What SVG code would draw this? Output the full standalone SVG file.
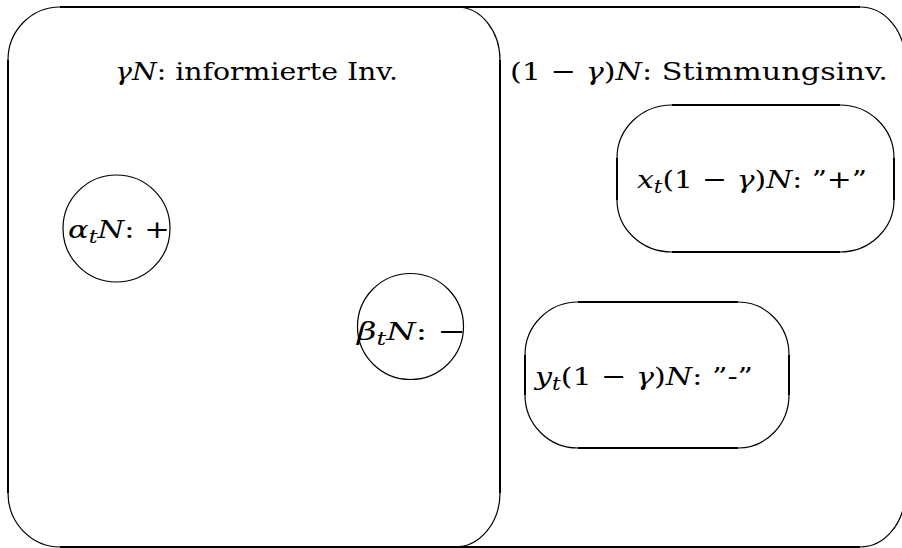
<svg xmlns="http://www.w3.org/2000/svg" width="902" height="548" viewBox="0 0 902 548">
<style>
.arc{fill:none;stroke:#000;stroke-width:1.2}
.edge{fill:none;stroke:#000;stroke-width:2}
text{font-family:"DejaVu Serif","Liberation Serif",serif;font-size:25px;fill:#000}
.i{font-style:italic}
.sub{font-style:italic;font-size:18px}
</style>
<rect width="902" height="548" fill="#fff"/>
<g id="outer">
<path class="arc" d="M8,60 A52,53 0 0 1 60,7 M860,7 A45,53 0 0 1 905,60 M905,493 A45,54 0 0 1 860,547 M60,547 A52,54 0 0 1 8,493"/>
<path class="edge" d="M60,7 L860,7 M905,60 L905,493 M860,547 L60,547 M8,493 L8,60"/>
<text x="510" y="80" textLength="378" lengthAdjust="spacingAndGlyphs">(1 − <tspan class="i">γ</tspan>)<tspan class="i">N</tspan>: Stimmungsinv.</text>
</g>
<g id="informed">
<path class="arc" d="M457,7 A43,53 0 0 1 500,60 M500,493 A45,54 0 0 1 455,547"/>
<path class="edge" d="M500,60 L500,493"/>
<text x="115" y="80" textLength="283" lengthAdjust="spacingAndGlyphs"><tspan class="i">γN</tspan>: informierte Inv.</text>
</g>
<g id="alpha">
<circle class="arc" cx="116.5" cy="228.5" r="53.5"/>
<text x="68" y="238" textLength="102" lengthAdjust="spacingAndGlyphs"><tspan class="i">α</tspan><tspan class="sub" dy="5">t</tspan><tspan class="i" dy="-5">N</tspan>: +</text>
</g>
<g id="beta">
<circle class="arc" cx="410.5" cy="326.5" r="53"/>
<text x="357" y="340" textLength="109" lengthAdjust="spacingAndGlyphs"><tspan class="i">β</tspan><tspan class="sub" dy="5">t</tspan><tspan class="i" dy="-5">N</tspan>: −</text>
</g>
<g id="xbox">
<path class="arc" d="M617,158 A55,53 0 0 1 672,105 M840,105 A54,53 0 0 1 894,158 M894,200 A54,52 0 0 1 840,252 M672,252 A55,52 0 0 1 617,200"/>
<path class="edge" d="M672,105 L840,105 M894,158 L894,200 M840,252 L672,252 M617,200 L617,158"/>
<text x="637" y="188" textLength="230" lengthAdjust="spacingAndGlyphs"><tspan class="i">x</tspan><tspan class="sub" dy="5">t</tspan><tspan dy="-5">(1 − </tspan><tspan class="i">γ</tspan>)<tspan class="i">N</tspan>: ”+”</text>
</g>
<g id="ybox">
<path class="arc" d="M525,355 A53,53 0 0 1 578,302 M738,302 A51,53 0 0 1 789,355 M789,395 A51,53 0 0 1 738,448 M578,448 A53,53 0 0 1 525,395"/>
<path class="edge" d="M578,302 L738,302 M789,355 L789,395 M738,448 L578,448 M525,395 L525,355"/>
<text x="535" y="385" textLength="218" lengthAdjust="spacingAndGlyphs"><tspan class="i">y</tspan><tspan class="sub" dy="5">t</tspan><tspan dy="-5">(1 − </tspan><tspan class="i">γ</tspan>)<tspan class="i">N</tspan>: ”-”</text>
</g>
<g id="connectors"></g>
</svg>
